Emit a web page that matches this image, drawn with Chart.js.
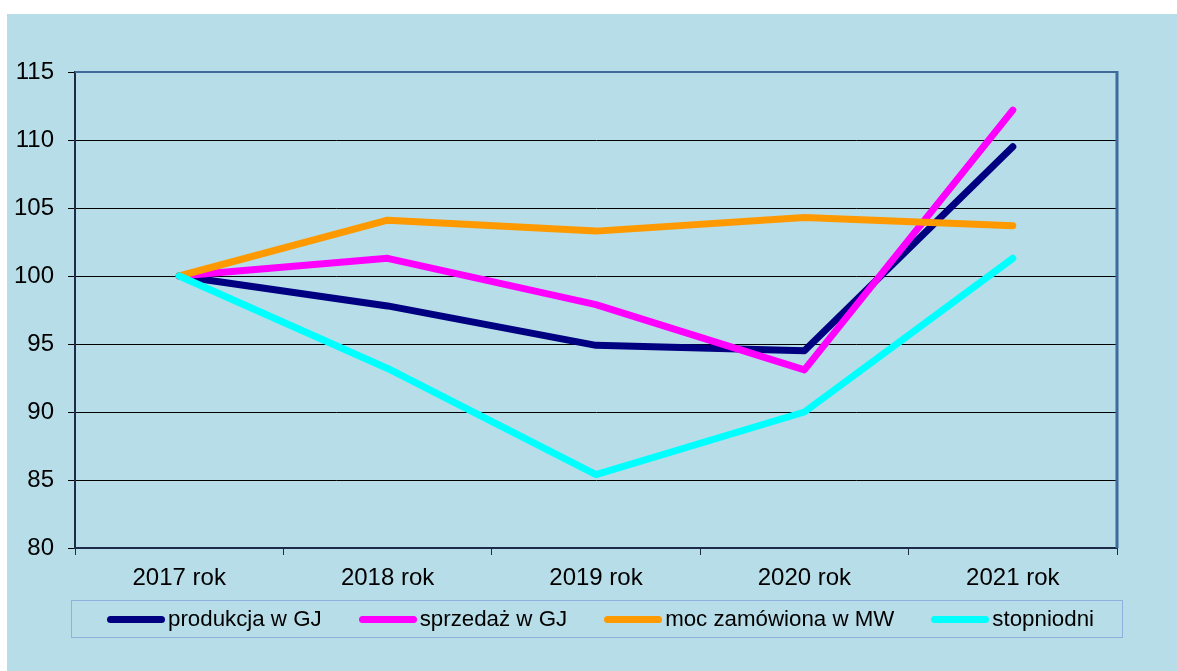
<!DOCTYPE html>
<html lang="pl">
<head>
    <meta charset="UTF-8">
    <title>Wskaźniki 2017-2021</title>
    <script src="https://cdn.jsdelivr.net/npm/chart.js"></script>
    <style>
        body {
            margin: 0;
            background: #ffffff;
            font-family: "Liberation Sans", Arial, sans-serif;
        }
        #panel {
            position: absolute;
            left: 7px;
            top: 14px;
            width: 1170px;
            height: 657px;
            background: #b7dde8;
        }
        #chart-box {
            position: absolute;
            left: 0;
            top: 0;
            width: 1170px;
            height: 657px;
        }
        #legend {
            position: absolute;
            left: 64px;
            top: 586px;
            width: 1052px;
            height: 38px;
            border: 1px solid #8fb0dc;
            display: flex;
            align-items: center;
            padding-left: 35px;
            box-sizing: border-box;
        }
        #legend .item {
            display: flex;
            align-items: center;
            margin-right: 37px;
            font-size: 22.3px;
            color: #000;
            white-space: nowrap;
        }
        #legend .swatch {
            width: 58px;
            height: 7px;
            border-radius: 4px;
            margin-right: 3px;
        }
    </style>
</head>
<body>
    <div id="panel">
        <div id="chart-box"><canvas id="lineChart"></canvas></div>
        <div id="legend"></div>
    </div>
    <script>
        const years = ['2017 rok', '2018 rok', '2019 rok', '2020 rok', '2021 rok'];
        const produkcja = [100, 97.8, 94.9, 94.5, 109.5];
        const sprzedaz = [100, 101.3, 97.9, 93.1, 112.2];
        const moc = [100, 104.1, 103.3, 104.3, 103.7];
        const stopniodni = [100, 93.2, 85.4, 90.0, 101.3];

        const seriesNames = ['produkcja w GJ', 'sprzedaż w GJ', 'moc zamówiona w MW', 'stopniodni'];
        const seriesColors = ['#000080', '#ff00ff', '#ff9900', '#00ffff'];
        const seriesValues = [produkcja, sprzedaz, moc, stopniodni];

        // last series is painted on top, like in the original
        const datasets = seriesValues.map((vals, i) => ({
            label: seriesNames[i],
            data: vals,
            borderColor: seriesColors[i],
            backgroundColor: seriesColors[i],
            borderWidth: 7,
            borderCapStyle: 'round',
            borderJoinStyle: 'round',
            pointRadius: 0,
            tension: 0,
            order: seriesValues.length - i
        }));

        // blue frame on top and right of the plot area
        const frame = {
            id: 'frame',
            afterDraw(chart) {
                const a = chart.chartArea;
                const ctx = chart.ctx;
                ctx.save();
                ctx.strokeStyle = '#3e6a9c';
                ctx.lineWidth = 2;
                ctx.beginPath();
                ctx.moveTo(a.left, a.top);
                ctx.lineTo(a.right, a.top);
                ctx.stroke();
                ctx.lineWidth = 3;
                ctx.beginPath();
                ctx.moveTo(a.right, a.top - 1);
                ctx.lineTo(a.right, a.bottom);
                ctx.stroke();
                ctx.restore();
            }
        };

        Chart.defaults.font.family = '"Liberation Sans", Arial, sans-serif';
        Chart.defaults.font.size = 24;
        Chart.defaults.color = '#000';

        new Chart(document.getElementById('lineChart'), {
            type: 'line',
            data: { labels: years, datasets: datasets },
            options: {
                responsive: true,
                maintainAspectRatio: false,
                animation: false,
                layout: { padding: { left: 0, top: 58, right: 60, bottom: 0 } },
                plugins: {
                    legend: { display: false },
                    tooltip: { enabled: false }
                },
                scales: {
                    x: {
                        offset: true,
                        grid: {
                            offset: true,
                            drawOnChartArea: false,
                            tickLength: 7,
                            color: '#1c2b47',
                            lineWidth: 1
                        },
                        border: { color: '#1c2b47', width: 2 },
                        ticks: { padding: 9, maxRotation: 0, font: { size: 24 } },
                        afterFit(scale) { scale.height = 123; }
                    },
                    y: {
                        min: 80,
                        max: 115,
                        ticks: { stepSize: 5, padding: 14, font: { size: 24 } },
                        grid: {
                            color: '#000',
                            lineWidth: 1,
                            tickLength: 7
                        },
                        border: { color: '#1c2b47', width: 2 },
                        afterFit(scale) { scale.width = 68; }
                    }
                }
            },
            plugins: [frame]
        });

        const legend = document.getElementById('legend');
        seriesNames.forEach((name, i) => {
            const item = document.createElement('div');
            item.className = 'item';
            const sw = document.createElement('span');
            sw.className = 'swatch';
            sw.style.background = seriesColors[i];
            item.appendChild(sw);
            item.appendChild(document.createTextNode(name));
            legend.appendChild(item);
        });
    </script>
</body>
</html>
